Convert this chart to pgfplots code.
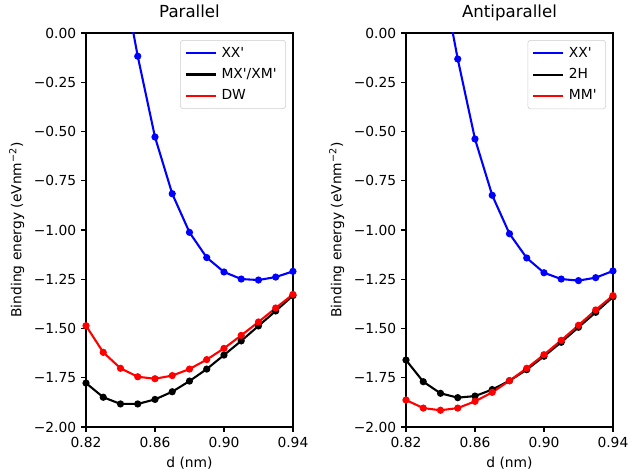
\documentclass[border=0pt]{standalone}
\usepackage{pgfplots}
\pgfplotsset{compat=1.18}
\usepackage{fontspec}
\setmainfont{DejaVu Sans}
\pgfplotstableread{
d XX H MM
0.82 nan -1.660 -1.863
0.83 nan -1.770 -1.904
0.84 0.33 -1.829 -1.915
0.85 -0.132 -1.851 -1.904
0.86 -0.538 -1.843 -1.870
0.87 -0.824 -1.810 -1.824
0.88 -1.019 -1.765 -1.765
0.89 -1.142 -1.709 -1.702
0.90 -1.217 -1.641 -1.633
0.91 -1.249 -1.570 -1.560
0.92 -1.257 -1.494 -1.484
0.93 -1.242 -1.418 -1.406
0.94 -1.208 -1.340 -1.333
}\anti
\pgfplotstableread{
d XX MX DW
0.82 nan -1.777 -1.486
0.83 nan -1.849 -1.621
0.84 0.35 -1.883 -1.702
0.85 -0.118 -1.883 -1.745
0.86 -0.528 -1.860 -1.755
0.87 -0.816 -1.821 -1.739
0.88 -1.012 -1.767 -1.706
0.89 -1.140 -1.706 -1.658
0.90 -1.213 -1.635 -1.601
0.91 -1.249 -1.563 -1.535
0.92 -1.254 -1.487 -1.467
0.93 -1.239 -1.411 -1.396
0.94 -1.210 -1.333 -1.327
}\para
\begin{document}
\begin{tikzpicture}
\useasboundingbox (-61.92bp,-31.68bp) rectangle (390.96bp,307.44bp);
\pgfplotsset{
  myax/.style={
    scale only axis, width=149bp, height=283.7bp,
    xmin=0.82,xmax=0.94,ymin=-2,ymax=0,
    xtick={0.82,0.86,0.90,0.94}, xticklabels={0.82,0.86,0.90,0.94},
    ytick={-2,-1.75,-1.5,-1.25,-1,-0.75,-0.5,-0.25,0},
    yticklabels={−2.00,−1.75,−1.50,−1.25,−1.00,−0.75,−0.50,−0.25,0.00},
    tick pos=left, tick align=outside, major tick length=3.5bp,
    every tick/.style={black, line width=0.8bp},
    axis line style={line width=0.8bp},
    ticklabel style={font=\fontsize{10}{12}\selectfont},
    label style={font=\fontsize{10}{12}\selectfont},
    title style={font=\fontsize{12}{14}\selectfont, at={(0.5,1)}, anchor=base, yshift=5bp},
    xlabel={d (nm)},
    ylabel={Binding energy (eVnm\textsuperscript{−2})},
    legend style={at={(0.966,0.982)}, anchor=north east, font=\fontsize{10}{12}\selectfont,
      draw=black!20, rounded corners=2bp, row sep=2.5bp, inner xsep=3bp, inner ysep=3bp,
      nodes={inner xsep=3.5bp}},
    legend cell align=left,
    legend image code/.code={\draw[##1, mark=none] (0bp,0bp) -- (21.6bp,0bp);},
    every axis plot/.append style={line width=1.5bp, mark=*, mark size=1.8bp},
    unbounded coords=jump,
  }
}
\begin{axis}[myax, title={Parallel}]
\addplot[blue] table[x=d,y=XX] {\para};
\addlegendentry{XX\textquotesingle}
\addplot[black] table[x=d,y=MX] {\para};
\addlegendentry{MX\textquotesingle/XM\textquotesingle}
\addplot[red] table[x=d,y=DW] {\para};
\addlegendentry{DW}
\end{axis}
\begin{axis}[myax, title={Antiparallel}, at={(230.4bp,0)}]
\addplot[blue] table[x=d,y=XX] {\anti};
\addlegendentry{XX\textquotesingle}
\addplot[black] table[x=d,y=H] {\anti};
\addlegendentry{2H}
\addplot[red] table[x=d,y=MM] {\anti};
\addlegendentry{MM\textquotesingle}
\end{axis}
\end{tikzpicture}
\end{document}
